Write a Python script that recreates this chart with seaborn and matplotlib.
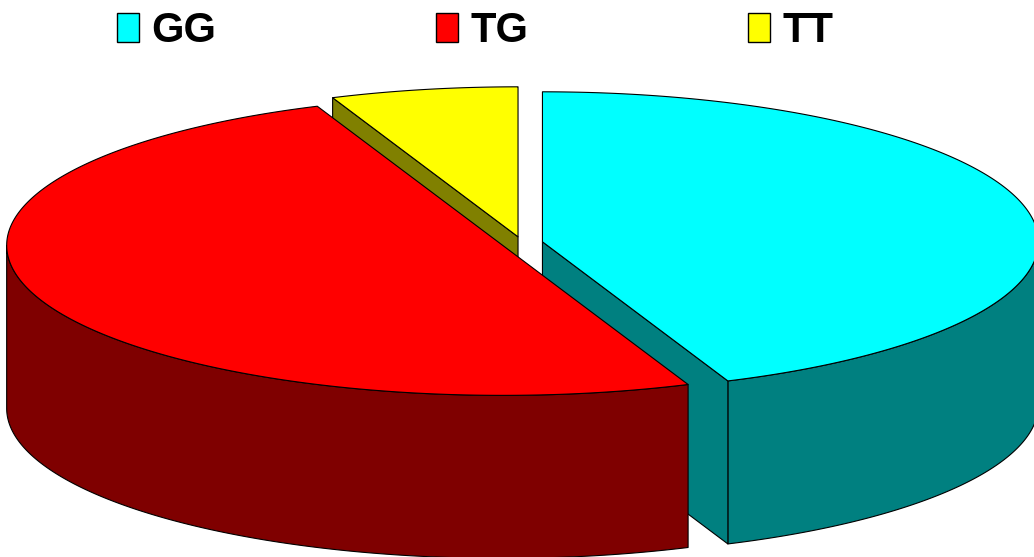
import numpy as np
import matplotlib
matplotlib.use('Agg')
import matplotlib.pyplot as plt
from matplotlib.patches import Polygon, Patch
import seaborn as sns

# genotype counts (GG 43.9 %, TG 50 %, TT 6.1 %)
genotypes = ['GG', 'TG', 'TT']
counts = [36, 41, 5]
top_colors = ['#00FFFF', '#FF0000', '#FFFF00']
side_colors = ['#008080', '#7F0000', '#808000']

# screen geometry of the 3d pie, in pixels (y grows downward)
CX, CY = 522, 243
RX, RY = 496, 150
DEPTH = 163
EXPLODE = 0.042

sns.set_style('white')
plt.rcParams['font.family'] = ['Liberation Sans', 'DejaVu Sans']


def rim(phi, dx, dy, z=0.0):
    # phi runs clockwise from 12 o'clock
    return np.column_stack([CX + dx + RX * np.sin(phi),
                            CY + dy - RY * np.cos(phi) + z])


def draw_slice(ax, start, end, top_c, side_c):
    mid = 0.5 * (start + end)
    dx = RX * EXPLODE * np.sin(mid)
    dy = -RY * EXPLODE * np.cos(mid)
    apex = np.array([[CX + dx, CY + dy]])
    style = dict(edgecolor='black', linewidth=0.8, joinstyle='round')

    # outer wall, only the part facing the viewer
    lo, hi = max(start, np.pi / 2), min(end, 3 * np.pi / 2)
    if hi > lo:
        t = np.linspace(lo, hi, 200)
        pts = np.vstack([rim(t, dx, dy), rim(t[::-1], dx, dy, DEPTH)])
        ax.add_patch(Polygon(pts, closed=True, facecolor=side_c, **style))

    # radial cut faces
    for ang, visible in ((start, np.sin(start) < -1e-9), (end, np.sin(end) > 1e-9)):
        if visible:
            r0 = rim(np.array([ang]), dx, dy)
            pts = np.vstack([apex, r0, r0 + [0, DEPTH], apex + [0, DEPTH]])
            ax.add_patch(Polygon(pts, closed=True, facecolor=side_c, **style))

    # top face
    t = np.linspace(start, end, 300)
    pts = np.vstack([apex, rim(t, dx, dy)])
    ax.add_patch(Polygon(pts, closed=True, facecolor=top_c, **style))


fig = plt.figure(figsize=(10.34, 5.57), dpi=100)
ax = fig.add_axes([0, 0, 1, 1])
ax.set_xlim(0, 1034)
ax.set_ylim(557, 0)
ax.axis('off')

fracs = np.array(counts) / np.sum(counts)
edges = np.concatenate([[0], np.cumsum(fracs)]) * 2 * np.pi
slices = []
for i in range(len(counts)):
    mid = 0.5 * (edges[i] + edges[i + 1])
    slices.append((-np.cos(mid), i))

# paint back to front
for _, i in sorted(slices):
    draw_slice(ax, edges[i], edges[i + 1], top_colors[i], side_colors[i])

handles = [Patch(facecolor=c, edgecolor='black', linewidth=1) for c in top_colors]
fig.legend(handles, genotypes, loc='upper left', bbox_to_anchor=(117 / 1034, 1 - 11 / 557),
           ncol=3, frameon=False, borderpad=0, borderaxespad=0,
           handlelength=0.52, handleheight=0.68, handletextpad=0.3, columnspacing=5.28,
           labelcolor='black', prop=dict(size=30, weight='bold'))

fig.savefig('out.png', dpi=100)
